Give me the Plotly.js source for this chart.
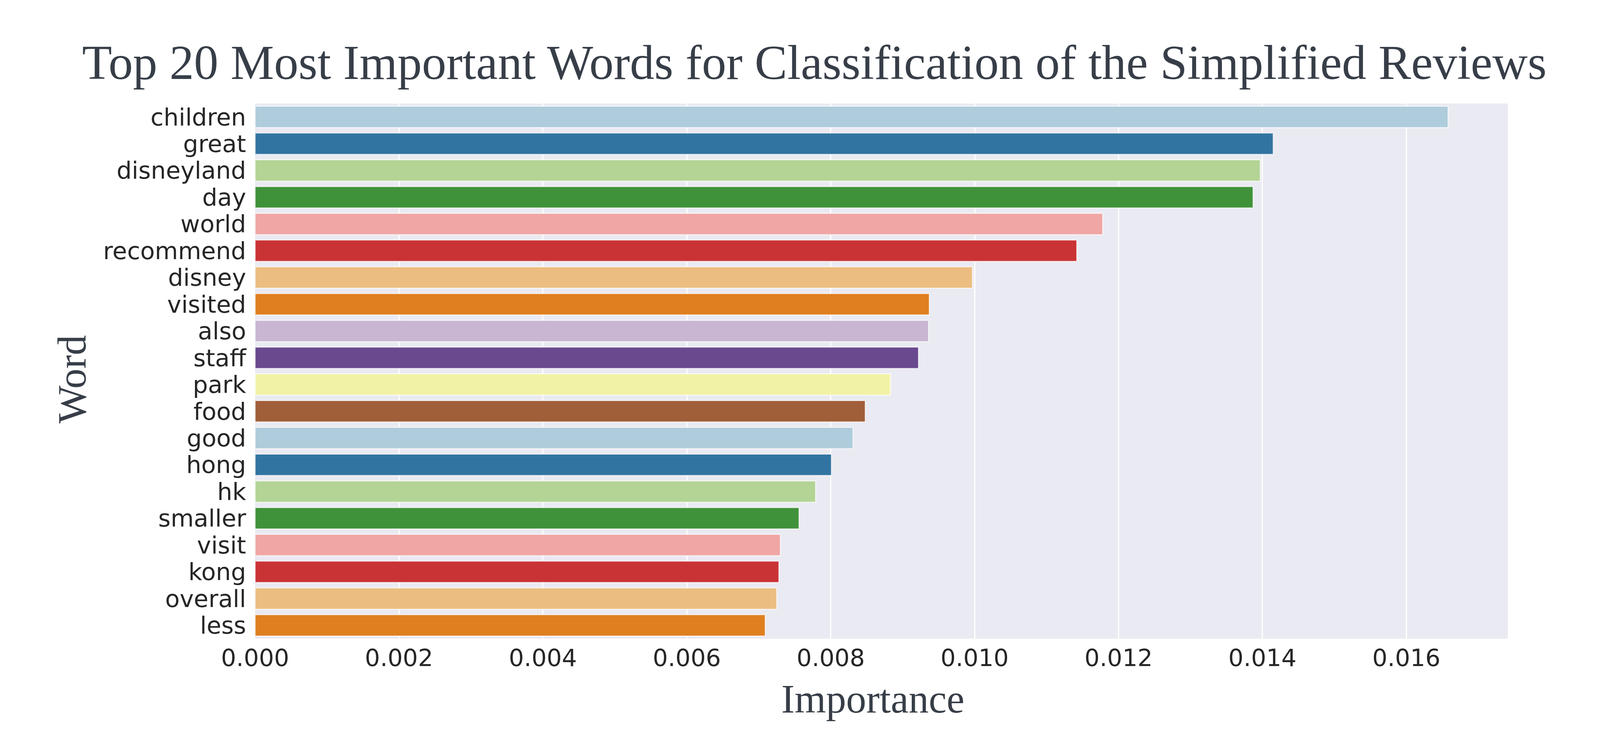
<!DOCTYPE html>
<html>
<head>
<meta charset="utf-8">
<script src="https://cdn.plot.ly/plotly-3.0.1.min.js"></script>
<style>html,body{margin:0;padding:0;background:#fff;overflow:hidden;}</style>
</head>
<body>
<div id="chart"></div>
<script>
const words = ["children","great","disneyland","day","world","recommend","disney","visited","also","staff","park","food","good","hong","hk","smaller","visit","kong","overall","less"];
const importance = [0.01658,0.01415,0.01397,0.01387,0.01178,0.01142,0.00997,0.00937,0.00936,0.00922,0.00883,0.00848,0.00831,0.00801,0.00779,0.00756,0.00730,0.00728,0.00725,0.00709];
const xTicks = [0,0.002,0.004,0.006,0.008,0.010,0.012,0.014,0.016];

// seaborn "Paired" palette, desaturated like seaborn barplot (saturation 0.75)
const paired = ["#a6cee3","#1f78b4","#b2df8a","#33a02c","#fb9a99","#e31a1c","#fdbf6f","#ff7f00","#cab2d6","#6a3d9a","#ffff99","#b15928"];
function desat(hex, p){
  let r=parseInt(hex.slice(1,3),16)/255,g=parseInt(hex.slice(3,5),16)/255,b=parseInt(hex.slice(5,7),16)/255;
  const mx=Math.max(r,g,b),mn=Math.min(r,g,b);let h=0,s=0;const l=(mx+mn)/2;
  if(mx!==mn){const d=mx-mn;s=l>0.5?d/(2-mx-mn):d/(mx+mn);
    if(mx===r)h=((g-b)/d)%6;else if(mx===g)h=(b-r)/d+2;else h=(r-g)/d+4;h/=6;if(h<0)h+=1;}
  s*=p;
  const q=l<0.5?l*(1+s):l+s-l*s,pp=2*l-q;
  const f=t=>{if(t<0)t+=1;if(t>1)t-=1;if(t<1/6)return pp+(q-pp)*6*t;if(t<1/2)return q;if(t<2/3)return pp+(q-pp)*(2/3-t)*6;return pp;};
  const c=[f(h+1/3),f(h),f(h-1/3)].map(v=>Math.round(v*255));
  return "rgb("+c.join(",")+")";
}
const colors = words.map((w,i)=>desat(paired[i%paired.length],0.75));

// visible page width (the browser caps the viewport), height as requested
const W = Math.min(window.innerWidth || 4096, 4275);
const H = 1929;
const sx = W / 4275;
const serif = "Liberation Serif, serif";
const ink = "#373e48";

const trace = {
  type:"bar", orientation:"h",
  x: importance, y: words,
  width: 0.8,
  marker:{color:colors, line:{color:"rgba(255,255,255,0.75)", width:2.5}},
  hoverinfo:"x+y"
};

const layout = {
  width:W, height:H,
  paper_bgcolor:"#ffffff", plot_bgcolor:"#eaeaf2",
  margin:{l:Math.round(682*sx), r:Math.round(246*sx), t:265, b:295, pad:0, autoexpand:false},
  showlegend:false,
  title:{text:"Top 20 Most Important Words for Classification of the Simplified Reviews",
    font:{family:serif, size:125, color:ink},
    x:0.509, xref:"container", xanchor:"center",
    y:0.918, yref:"container", yanchor:"middle"},
  xaxis:{
    range:[0,0.01741], tickmode:"array", tickvals:xTicks, tickformat:".3f",
    showgrid:true, gridcolor:"#ffffff", gridwidth:3, zeroline:false,
    showline:false, ticks:"", ticklabelstandoff:8,
    tickfont:{family:"DejaVu Sans, sans-serif", size:61, color:"#262626"}
  },
  yaxis:{
    autorange:"reversed", type:"category",
    tickmode:"array", tickvals:words, ticktext:words,
    showgrid:false, zeroline:false, showline:false, ticks:"", ticklabelstandoff:22,
    tickfont:{family:"DejaVu Sans, sans-serif", size:61, color:"#262626"}
  },
  annotations:[
    {text:"Importance", xref:"paper", yref:"paper", x:0.493, y:-0.1125,
     xanchor:"center", yanchor:"middle", showarrow:false,
     font:{family:serif, size:103, color:ink}},
    {text:"Word", xref:"paper", yref:"paper", x:-0.1461, y:0.485, textangle:-90,
     xanchor:"center", yanchor:"middle", showarrow:false,
     font:{family:serif, size:103, color:ink}}
  ],
  bargap:0.2
};

Plotly.newPlot("chart",[trace],layout,{staticPlot:true,displayModeBar:false});
</script>
</body>
</html>
